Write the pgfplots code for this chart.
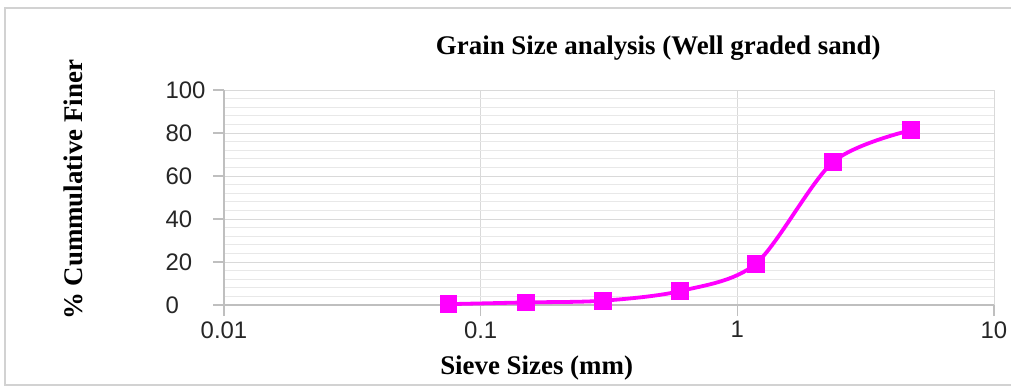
\documentclass[border=0pt]{standalone}
\usepackage{pgfplots}
\pgfplotsset{compat=1.18}
\usepackage{fontspec}
\setmainfont{Liberation Serif}
\newfontfamily\arial{Liberation Sans}
\definecolor{gridmaj}{HTML}{D9D9D9}
\definecolor{gridmin}{HTML}{E8E8E8}
\definecolor{axgray}{HTML}{BFBFBF}
\definecolor{mag}{HTML}{FF00FF}
\begin{document}
\begin{tikzpicture}
\path[use as bounding box] (-224bp,-83bp) rectangle (787bp,305bp);
\draw[color=axgray!70, line width=1.5bp] (-219bp,-80bp) rectangle (800bp,297bp);
\begin{axis}[
  at={(0,0)}, anchor=south west,
  scale only axis, width=770bp, height=215bp,
  xmode=log, xmin=0.01, xmax=10,
  ymin=0, ymax=100,
  xtick={0.01,0.1,1,10}, xticklabels={0.01,0.1,1,10},
  ytick={0,20,40,60,80,100},
  minor ytick={4,8,12,16,24,28,32,36,44,48,52,56,64,68,72,76,84,88,92,96},
  minor xtick={},
  axis x line*=bottom, axis y line*=left,
  axis line style={color=axgray, line width=1.2bp, -},
  xmajorgrids, ymajorgrids, yminorgrids,
  major grid style={color=gridmaj, line width=0.8bp},
  minor grid style={color=gridmin, line width=0.8bp},
  tick style={color=axgray, line width=1.2bp},
  tick align=outside, major tick length=11bp, minor tick length=0pt,
  /pgf/number format/assume math mode=true,
  ticklabel style={font=\arial\fontsize{24}{28}\selectfont, text=black!85},
  yticklabel style={anchor=west, xshift=-51bp},
  xticklabel style={yshift=-2bp},
  title={\bfseries Grain Size analysis (Well graded sand)},
  title style={font=\fontsize{27}{30}\selectfont, at={(axis description cs:0.564,1)}, anchor=south, yshift=20bp},
  xlabel={\bfseries Sieve Sizes (mm)},
  xlabel style={font=\fontsize{27}{30}\selectfont, at={(axis description cs:0.406,0)}, anchor=center, yshift=-63bp},
  ylabel={\bfseries \% Cummulative Finer},
  ylabel style={font=\fontsize{27}{30}\selectfont, at={(axis description cs:-0.196,0.535)}, anchor=center},
  clip=false,
]
\addplot[color=mag, line width=3.8bp, smooth, tension=0.5, mark=square*, mark size=7bp, mark options={solid, fill=mag}]
coordinates {
(0.075,0.4)
(0.15,1.2)
(0.3,2.0)
(0.6,6.5)
(1.18,19.2)
(2.36,66.5)
(4.75,81.3)
};
\end{axis}
\end{tikzpicture}
\end{document}
